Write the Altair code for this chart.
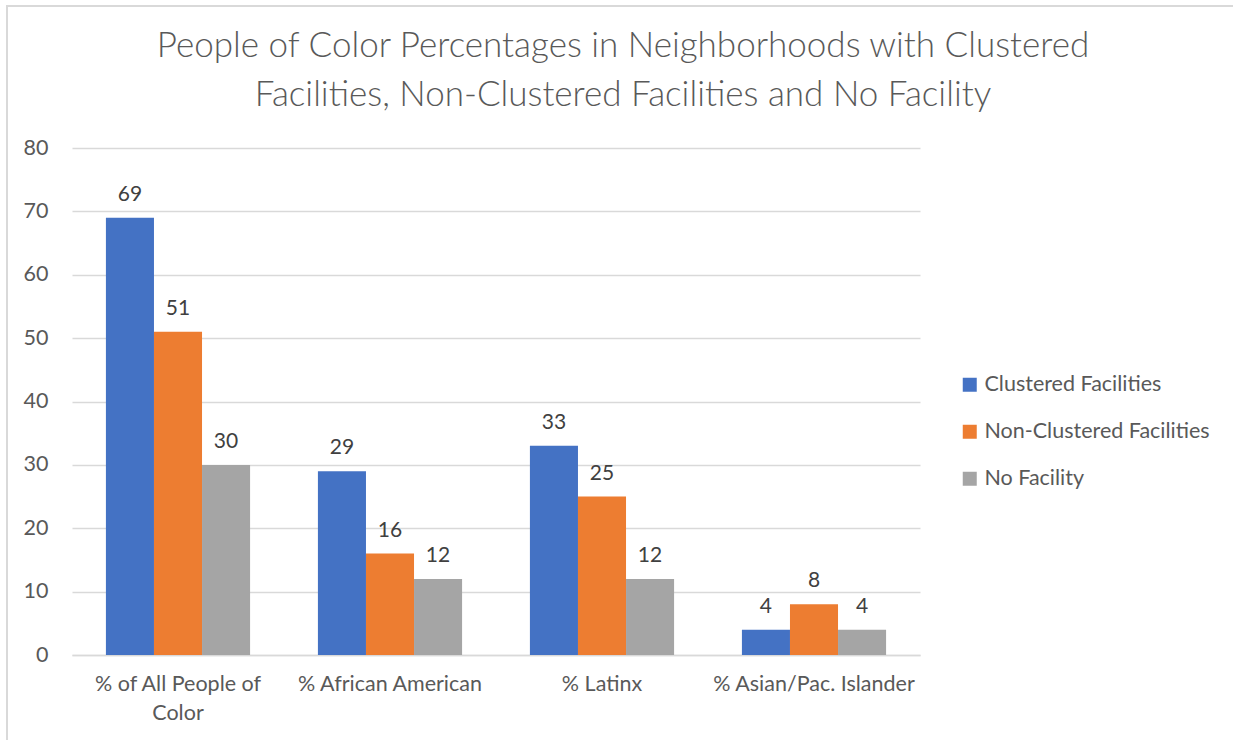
import altair as alt
import pandas as pd

categories = ["% of All People of Color", "% African American", "% Latinx", "% Asian/Pac. Islander"]
series = ["Clustered Facilities", "Non-Clustered Facilities", "No Facility"]
clustered = [69, 29, 33, 4]
non_clustered = [51, 16, 25, 8]
no_facility = [30, 12, 12, 4]
colors = ["#4472C4", "#ED7D31", "#A5A5A5"]
y_ticks = [0, 10, 20, 30, 40, 50, 60, 70, 80]

rows = []
for s, vals in zip(series, [clustered, non_clustered, no_facility]):
    for c, v in zip(categories, vals):
        rows.append({"category": c, "series": s, "value": v})
df = pd.DataFrame(rows)

FONT = "Lato"

base = alt.Chart(df).encode(
    x=alt.X(
        "category:N",
        sort=categories,
        title=None,
        scale=alt.Scale(paddingInner=0.32, paddingOuter=0.16),
        axis=alt.Axis(
            labelAngle=0,
            labelFontSize=21.5,
            labelFont=FONT,
            labelColor="#595959",
            labelPadding=18,
            ticks=False,
            domainColor="#D9D9D9",
            domainWidth=1.5,
            grid=False,
            labelLimit=300,
            labelLineHeight=29,
            labelExpr="datum.label == '% of All People of Color' ? ['% of All People of', 'Color'] : datum.label",
        ),
    ),
    xOffset=alt.XOffset("series:N", sort=series),
    y=alt.Y(
        "value:Q",
        title=None,
        scale=alt.Scale(domain=[0, 80]),
        axis=alt.Axis(
            values=y_ticks,
            labelFontSize=21.5,
            labelFont=FONT,
            labelColor="#595959",
            labelPadding=24,
            ticks=False,
            domain=False,
            gridColor="#D9D9D9",
            gridWidth=1.5,
        ),
    ),
)

bars = base.mark_bar().encode(
    color=alt.Color(
        "series:N",
        sort=series,
        scale=alt.Scale(domain=series, range=colors),
        legend=alt.Legend(
            title=None,
            orient="none",
            legendX=887,
            legendY=226,
            symbolType="square",
            symbolSize=196,
            symbolStrokeWidth=0,
            labelFontSize=21.5,
            labelFont=FONT,
            labelColor="#595959",
            rowPadding=24,
            labelOffset=4,
            labelLimit=300,
        ),
    )
)

text = base.mark_text(dy=-13, baseline="bottom", fontSize=21, font=FONT, color="#404040").encode(
    text="value:Q"
)

# chart frame (light border at top and left, as in the reference)
frame_df = pd.DataFrame({"k": [0]})
frame_left = alt.Chart(frame_df).mark_rule(color="#D9D9D9", strokeWidth=2).encode(
    x=alt.value(-65), y=alt.value(-142), y2=alt.value(600)
)
frame_top = alt.Chart(frame_df).mark_rule(color="#D9D9D9", strokeWidth=2).encode(
    x=alt.value(-66), x2=alt.value(1170), y=alt.value(-142)
)

chart = (
    alt.layer(bars, text, frame_left, frame_top)
    .properties(
        width=848,
        height=507,
        background="white",
        autosize=alt.AutoSizeParams(type="none"),
        padding={"left": 72, "top": 148, "right": 313, "bottom": 85},
        title=alt.TitleParams(
            text=[
                "People of Color Percentages in Neighborhoods with Clustered",
                "Facilities, Non-Clustered Facilities and No Facility",
            ],
            font=FONT,
            fontSize=35,
            fontWeight=300,
            color="#595959",
            anchor="middle",
            dx=127,
            dy=132,
            offset=24,
            lineHeight=49,
        ),
    )
    .configure_view(stroke="transparent", strokeWidth=0)
)

chart.save("out.html", embed_options={"renderer": "svg", "actions": False})
